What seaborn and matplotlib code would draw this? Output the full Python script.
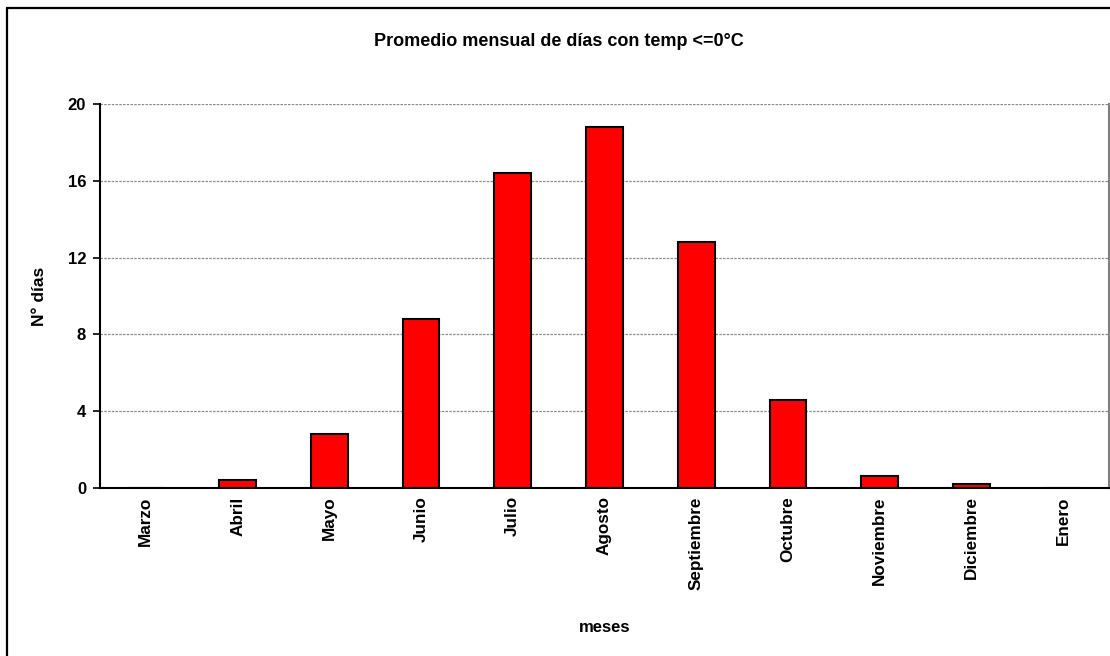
import matplotlib
matplotlib.use("Agg")
import matplotlib.pyplot as plt
from matplotlib.lines import Line2D
import seaborn as sns
import pandas as pd
import numpy as np

months = ["Marzo", "Abril", "Mayo", "Junio", "Julio", "Agosto", "Septiembre",
          "Octubre", "Noviembre", "Diciembre", "Enero"]
dias = [0.0, 0.4, 2.8, 8.8, 16.4, 18.8, 12.8, 4.6, 0.6, 0.2, 0.0]
yticks = [0, 4, 8, 12, 16, 20]

sns.set_style("white")
plt.rcParams['font.family'] = ['Liberation Sans', 'DejaVu Sans']
plt.rcParams['text.color'] = 'black'
plt.rcParams['axes.labelcolor'] = 'black'
plt.rcParams['xtick.color'] = 'black'
plt.rcParams['ytick.color'] = 'black'

df = pd.DataFrame({"mes": months, "dias": dias})

fig = plt.figure(figsize=(11.10, 6.56), dpi=100)
ax = fig.add_axes([100/1110, 1 - 488/656, 1009/1110, 384/656])

sns.barplot(data=df, x="mes", y="dias", color="#ff0000", edgecolor="black",
            linewidth=1.5, width=0.4, saturation=1, ax=ax)

ax.set_ylim(0, 20)
ax.set_xlim(-0.5, len(months) - 0.5)
ax.set_yticks(yticks)
ax.set_yticklabels([str(v) for v in yticks], fontsize=12, fontweight="bold")
ax.set_xticks(range(len(months)))
ax.set_xticklabels(months, rotation=90, fontsize=12.3, fontweight="bold")
ax.set_xticks(np.arange(-0.5, len(months)), minor=True)
ax.tick_params(axis="x", which="major", length=0, pad=6)
ax.tick_params(axis="x", which="minor", length=5, width=1.2, color="black", direction="out")
ax.tick_params(axis="y", length=5, width=1.2, color="black", direction="out", left=True, pad=5)

ax.yaxis.grid(True, color="#8c8c8c", linestyle=(0, (2, 1)), linewidth=0.9)
ax.set_axisbelow(True)

for s in ["left", "bottom"]:
    ax.spines[s].set_color("black")
    ax.spines[s].set_linewidth(1.5)
ax.spines["top"].set_visible(False)
ax.spines["right"].set_color("#808080")
ax.spines["right"].set_linewidth(1.5)

ax.set_xlabel("meses", fontsize=12, fontweight="bold")
ax.set_ylabel("N° días", fontsize=12.5, fontweight="bold")
ax.xaxis.set_label_coords(0.5, -(628 - 488) / 384)
ax.yaxis.set_label_coords(-(100 - 40) / 1009, 0.5)
ax.xaxis.label.set_verticalalignment("center")
ax.yaxis.label.set_verticalalignment("center")

fig.text(559/1110, 1 - 42/656, "Promedio mensual de días con temp <=0°C",
         ha="center", va="center", fontsize=13, fontweight="bold")

# outer frame (left and top visible)
fig.add_artist(Line2D([6.5/1110, 6.5/1110], [0, 1 - 8/656], transform=fig.transFigure,
                      color="black", linewidth=1.6))
fig.add_artist(Line2D([6.5/1110, 1], [1 - 8/656, 1 - 8/656], transform=fig.transFigure,
                      color="black", linewidth=1.6))

fig.savefig("out.png", dpi=100, facecolor="white")
